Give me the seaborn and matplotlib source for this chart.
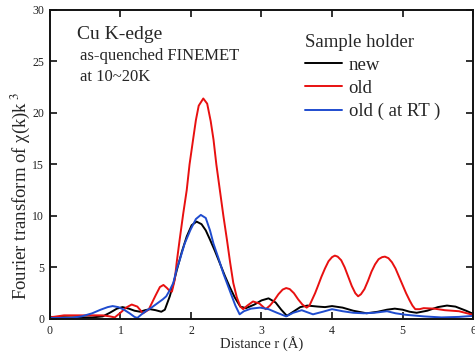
import matplotlib
matplotlib.use("Agg")
import matplotlib.pyplot as plt
import seaborn as sns
import pandas as pd
from matplotlib.lines import Line2D

# ---- data ----
series_names = ["new", "old", "old ( at RT )"]
series_colors = ["#000000", "#e81010", "#1f4ccf"]

new_r = [0, 0.3, 0.6, 0.75, 0.85, 0.95, 1.03, 1.12, 1.2, 1.28, 1.35, 1.42, 1.5, 1.58, 1.63,
         1.70, 1.75, 1.80, 1.87, 1.94, 2.01, 2.08, 2.15, 2.21, 2.27, 2.34, 2.41, 2.48, 2.55,
         2.62, 2.70, 2.78, 2.9, 3.0, 3.1, 3.2, 3.28, 3.36, 3.45, 3.55, 3.65, 3.8, 3.9, 4.0,
         4.15, 4.3, 4.49, 4.65, 4.78, 4.89, 5.0, 5.1, 5.2, 5.35, 5.5, 5.63, 5.75, 5.9, 6.0]
new_ft = [0.2, 0.15, 0.15, 0.25, 0.6, 1.0, 1.15, 1.0, 0.8, 0.7, 0.85, 0.95, 0.85, 0.7, 0.9,
          2.2, 3.4, 4.75, 6.5, 8.0, 9.1, 9.45, 9.2, 8.6, 7.7, 6.6, 5.4, 4.2, 3.1,
          2.1, 1.2, 1.05, 1.4, 1.8, 2.0, 1.6, 0.9, 0.3, 0.7, 1.15, 1.3, 1.2, 1.15, 1.25,
          1.1, 0.8, 0.55, 0.7, 0.9, 1.0, 0.9, 0.7, 0.6, 0.8, 1.15, 1.3, 1.2, 0.8, 0.5]

old_r = [0, 0.2, 0.5, 0.75, 0.85, 0.92, 1.0, 1.08, 1.16, 1.24, 1.32, 1.4, 1.5, 1.56, 1.61,
         1.66, 1.70, 1.73, 1.77, 1.80, 1.84, 1.89, 1.94, 1.98, 2.03, 2.07, 2.11, 2.175,
         2.23, 2.28, 2.32, 2.36, 2.41, 2.46, 2.51, 2.555, 2.60, 2.65, 2.70, 2.74,
         2.8, 2.88, 2.97, 3.06, 3.12, 3.18, 3.24, 3.30, 3.35, 3.40, 3.46, 3.52, 3.58,
         3.64, 3.68, 3.72, 3.76, 3.8, 3.85, 3.9, 3.95, 4.0, 4.04, 4.08, 4.13, 4.18, 4.23,
         4.28, 4.33, 4.37, 4.41, 4.46, 4.51, 4.56, 4.61, 4.66, 4.71, 4.75, 4.80, 4.85,
         4.90, 4.95, 5.0, 5.05, 5.1, 5.14, 5.18, 5.24, 5.3, 5.45, 5.6, 5.8, 6.0]
old_ft = [0.15, 0.35, 0.35, 0.35, 0.25, 0.15, 0.6, 1.1, 1.4, 1.2, 0.55, 0.9, 2.3, 3.1, 3.3,
          3.0, 2.7, 2.65, 3.8, 5.6, 7.7, 10.2, 12.5, 15.0, 17.4, 19.3, 20.7, 21.4,
          20.9, 19.2, 17.4, 15.0, 12.5, 10.0, 7.7, 5.5, 3.5, 2.1, 1.2, 0.95,
          1.3, 1.7, 1.5, 0.95, 1.3, 1.8, 2.4, 2.85, 3.0, 2.9, 2.5, 1.9, 1.4,
          1.1, 1.3, 1.9, 2.5, 3.2, 4.1, 4.9, 5.6, 6.0, 6.15, 6.05, 5.7, 5.0, 4.1,
          3.2, 2.5, 2.2, 2.4, 2.9, 3.7, 4.6, 5.3, 5.8, 6.0, 6.05, 5.9, 5.5,
          4.9, 4.1, 3.3, 2.5, 1.8, 1.3, 0.95, 0.95, 1.05, 1.0, 0.85, 0.75, 0.4]

rt_r = [0, 0.3, 0.45, 0.6, 0.72, 0.82, 0.89, 0.97, 1.05, 1.13, 1.2, 1.24, 1.3, 1.38, 1.45,
        1.52, 1.6, 1.65, 1.70, 1.75, 1.80, 1.84, 1.91, 1.99, 2.07, 2.14, 2.21, 2.27, 2.32,
        2.39, 2.46, 2.52, 2.58, 2.63, 2.69, 2.75, 2.85, 2.98, 3.1, 3.22, 3.35, 3.45, 3.57,
        3.73, 3.87, 4.0, 4.15, 4.3, 4.45, 4.6, 4.78, 4.9, 5.05, 5.3, 5.55, 5.8, 6.0]
rt_ft = [0.1, 0.1, 0.25, 0.55, 0.9, 1.15, 1.25, 1.15, 0.9, 0.55, 0.2, 0.1, 0.45, 0.85, 1.15,
         1.5, 1.9, 2.2, 2.8, 3.5, 4.9, 5.7, 7.3, 8.6, 9.7, 10.1, 9.8, 8.6, 7.3,
         5.9, 4.4, 3.3, 2.2, 1.3, 0.45, 0.75, 1.0, 1.1, 0.95, 0.6, 0.25, 0.6, 0.85,
         0.45, 0.7, 0.95, 0.75, 0.6, 0.55, 0.6, 0.75, 0.55, 0.4, 0.25, 0.15, 0.2, 0.3]

x_ticks = [0, 1, 2, 3, 4, 5, 6]
y_ticks = [0, 5, 10, 15, 20, 25, 30]

df = pd.concat([
    pd.DataFrame({"r": new_r, "ft": new_ft, "series": series_names[0]}),
    pd.DataFrame({"r": old_r, "ft": old_ft, "series": series_names[1]}),
    pd.DataFrame({"r": rt_r, "ft": rt_ft, "series": series_names[2]}),
], ignore_index=True)

sns.set_style("ticks")
plt.rcParams["font.family"] = ["Liberation Serif", "DejaVu Serif"]
plt.rcParams["mathtext.fontset"] = "stix"

fig = plt.figure(figsize=(4.75, 3.54), dpi=100)
ax = fig.add_axes([0.105, 0.099, 0.891, 0.873])

palette = dict(zip(series_names, series_colors))
sns.lineplot(data=df, x="r", y="ft", hue="series", palette=palette, ax=ax,
             linewidth=1.4, legend=False, estimator=None, sort=False)

ax.set_xlim(0, 6)
ax.set_ylim(0, 30)
ax.set_xticks(x_ticks)
ax.set_yticks(y_ticks)
ax.tick_params(direction="in", length=5, width=1.3, labelsize=8.5, top=True, right=True,
               labeltop=False, labelright=False, pad=4, colors="#222222", labelcolor="#222222")
for s in ax.spines.values():
    s.set_visible(True)
    s.set_linewidth(1.4)
    s.set_color("#111111")

ax.set_xlabel("Distance r (Å)", fontsize=10.5, labelpad=0)
ax.set_ylabel("Fourier transform of χ(k)k$^{\\,\\,3}$", fontsize=13.5)
ax.yaxis.set_label_coords(-0.042, 0.40)

ax.text(0.064, 0.92, "Cu K-edge", transform=ax.transAxes, fontsize=14, va="center", ha="left")
ax.text(0.07, 0.85, "as-quenched FINEMET", transform=ax.transAxes, fontsize=12,
        va="center", ha="left")
ax.text(0.07, 0.782, "at 10~20K", transform=ax.transAxes, fontsize=12, va="center", ha="left")

handles = [Line2D([], [], color=c, linewidth=1.4) for c in series_colors]
leg = ax.legend(handles, series_names, title="Sample holder", loc="upper left",
                bbox_to_anchor=(0.595, 0.935), frameon=False, fontsize=13.5,
                title_fontsize=13.5, handlelength=1.95, handletextpad=0.35,
                labelspacing=0.32, alignment="left", borderpad=0.2, borderaxespad=0)

fig.savefig("out.png", dpi=100)
